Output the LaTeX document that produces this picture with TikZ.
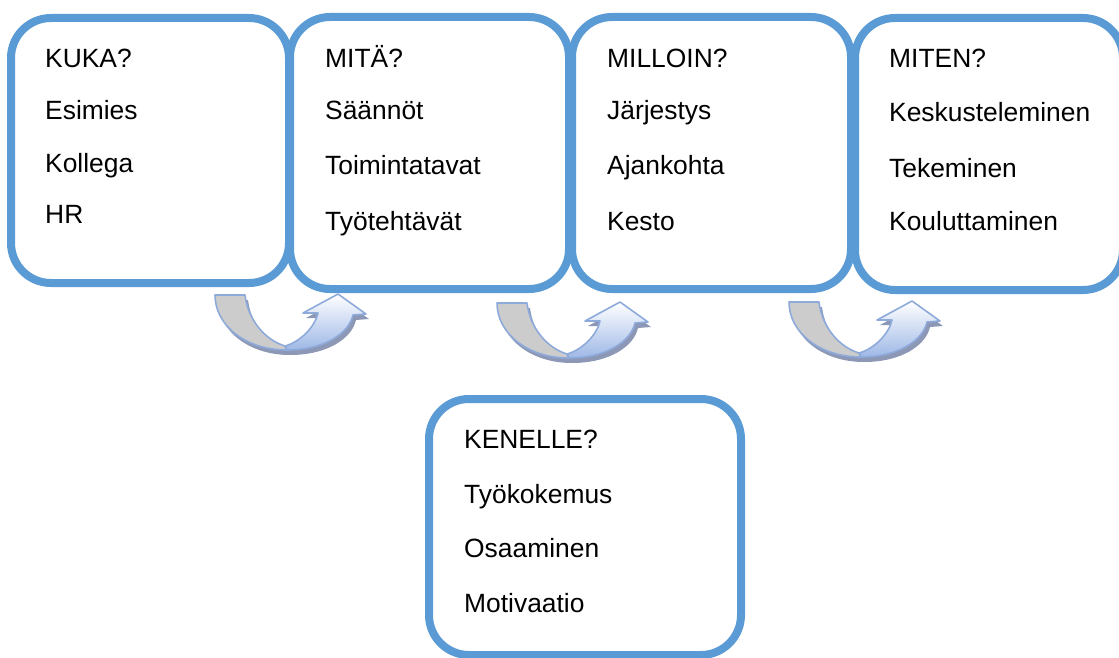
\documentclass[tikz,border=0pt]{standalone}
\usepackage{fontspec}
\setmainfont{Liberation Sans}
\usetikzlibrary{calc}

\definecolor{boxblue}{RGB}{91,155,213}
\definecolor{arrowline}{RGB}{142,170,219}
\definecolor{arrowback}{RGB}{204,204,204}
\definecolor{arrowfront}{RGB}{158,184,230}
\definecolor{arrowshadow}{RGB}{140,152,182}

% outline of the curved "turn" arrow (tail at the origin, y grows downwards)
\def\turnoutline{(0,0) -- (30,0) .. controls (33,25) and (50,45) .. (70,51)
  .. controls (85,47) and (100,32) .. (103,18) -- (88,18) -- (123,-1) -- (151,19) -- (138,20)
  .. controls (134,38) and (110,55) .. (72,55) .. controls (30,55) and (0,30) .. (0,0) -- cycle}
\def\turnback{(0,0) -- (30,0) .. controls (33,25) and (50,45) .. (70,51) -- (72,55)
  .. controls (30,55) and (0,30) .. (0,0) -- cycle}
\def\turnfront{(70,51) .. controls (85,47) and (100,32) .. (103,18) -- (88,18) -- (123,-1)
  -- (151,19) -- (138,20) .. controls (134,38) and (110,55) .. (72,55) -- cycle}

\tikzset{
  box/.style={draw=boxblue, line width=8pt, fill=white, rounded corners=40pt,
    inner sep=0pt, outer sep=0pt},
  item/.style={anchor=base west, inner sep=0pt,
    font=\fontsize{26.4}{30}\selectfont},
  turnarrow/.pic={
    \fill[arrowshadow, shift={(3,5)}] \turnoutline;
    \fill[arrowback] \turnback;
    \shade[top color=white, bottom color=arrowfront] \turnfront;
    \draw[arrowline, line width=1.6pt, line join=round] \turnback;
    \draw[arrowline, line width=1.6pt, line join=round] \turnfront;
  }
}

\begin{document}
\begin{tikzpicture}[x=1pt, y=-1pt]
\useasboundingbox (0,0) rectangle (1119,658);

% curved arrows below the row of boxes
\pic at (215,295) {turnarrow};
\pic at (497,303) {turnarrow};
\pic at (789,302) {turnarrow};

% row of boxes
\node[box, minimum width=278pt, minimum height=265pt] (b1) at (150,150.5) {};
\node[box, minimum width=279pt, minimum height=272pt] (b2) at (429.5,153) {};
\node[box, minimum width=279pt, minimum height=272pt] (b3) at (711.5,153) {};
\node[box, minimum width=268pt, minimum height=272pt] (b4) at (989,154) {};
% lower box
\node[box, minimum width=312pt, minimum height=256pt] (b5) at (585,527) {};

% texts
\node[item] (b1a) at ($(b1.north west)+(34,50)$) {KUKA?};
\node[item] (b1b) at ($(b1.north west)+(34,102)$) {Esimies};
\node[item] (b1c) at ($(b1.north west)+(34,154)$) {Kollega};
\node[item] (b1d) at ($(b1.north west)+(34,205)$) {HR};

\node[item] (b2a) at ($(b2.north west)+(35,51)$) {MITÄ?};
\node[item] (b2b) at ($(b2.north west)+(35,103)$) {Säännöt};
\node[item] (b2c) at ($(b2.north west)+(35,158)$) {Toimintatavat};
\node[item] (b2d) at ($(b2.north west)+(35,213)$) {Työtehtävät};

\node[item] (b3a) at ($(b3.north west)+(35,51)$) {MILLOIN?};
\node[item] (b3b) at ($(b3.north west)+(35,103)$) {Järjestys};
\node[item] (b3c) at ($(b3.north west)+(35,158)$) {Ajankohta};
\node[item] (b3d) at ($(b3.north west)+(35,213)$) {Kesto};

\node[item] (b4a) at ($(b4.north west)+(34,50)$) {MITEN?};
\node[item] (b4b) at ($(b4.north west)+(34,104)$) {Keskusteleminen};
\node[item] (b4c) at ($(b4.north west)+(34,159)$) {Tekeminen};
\node[item] (b4d) at ($(b4.north west)+(34,212)$) {Kouluttaminen};

\node[item] (b5a) at ($(b5.north west)+(35,49)$) {KENELLE?};
\node[item] (b5b) at ($(b5.north west)+(35,104)$) {Työkokemus};
\node[item] (b5c) at ($(b5.north west)+(35,158)$) {Osaaminen};
\node[item] (b5d) at ($(b5.north west)+(35,213)$) {Motivaatio};
\end{tikzpicture}
\end{document}
